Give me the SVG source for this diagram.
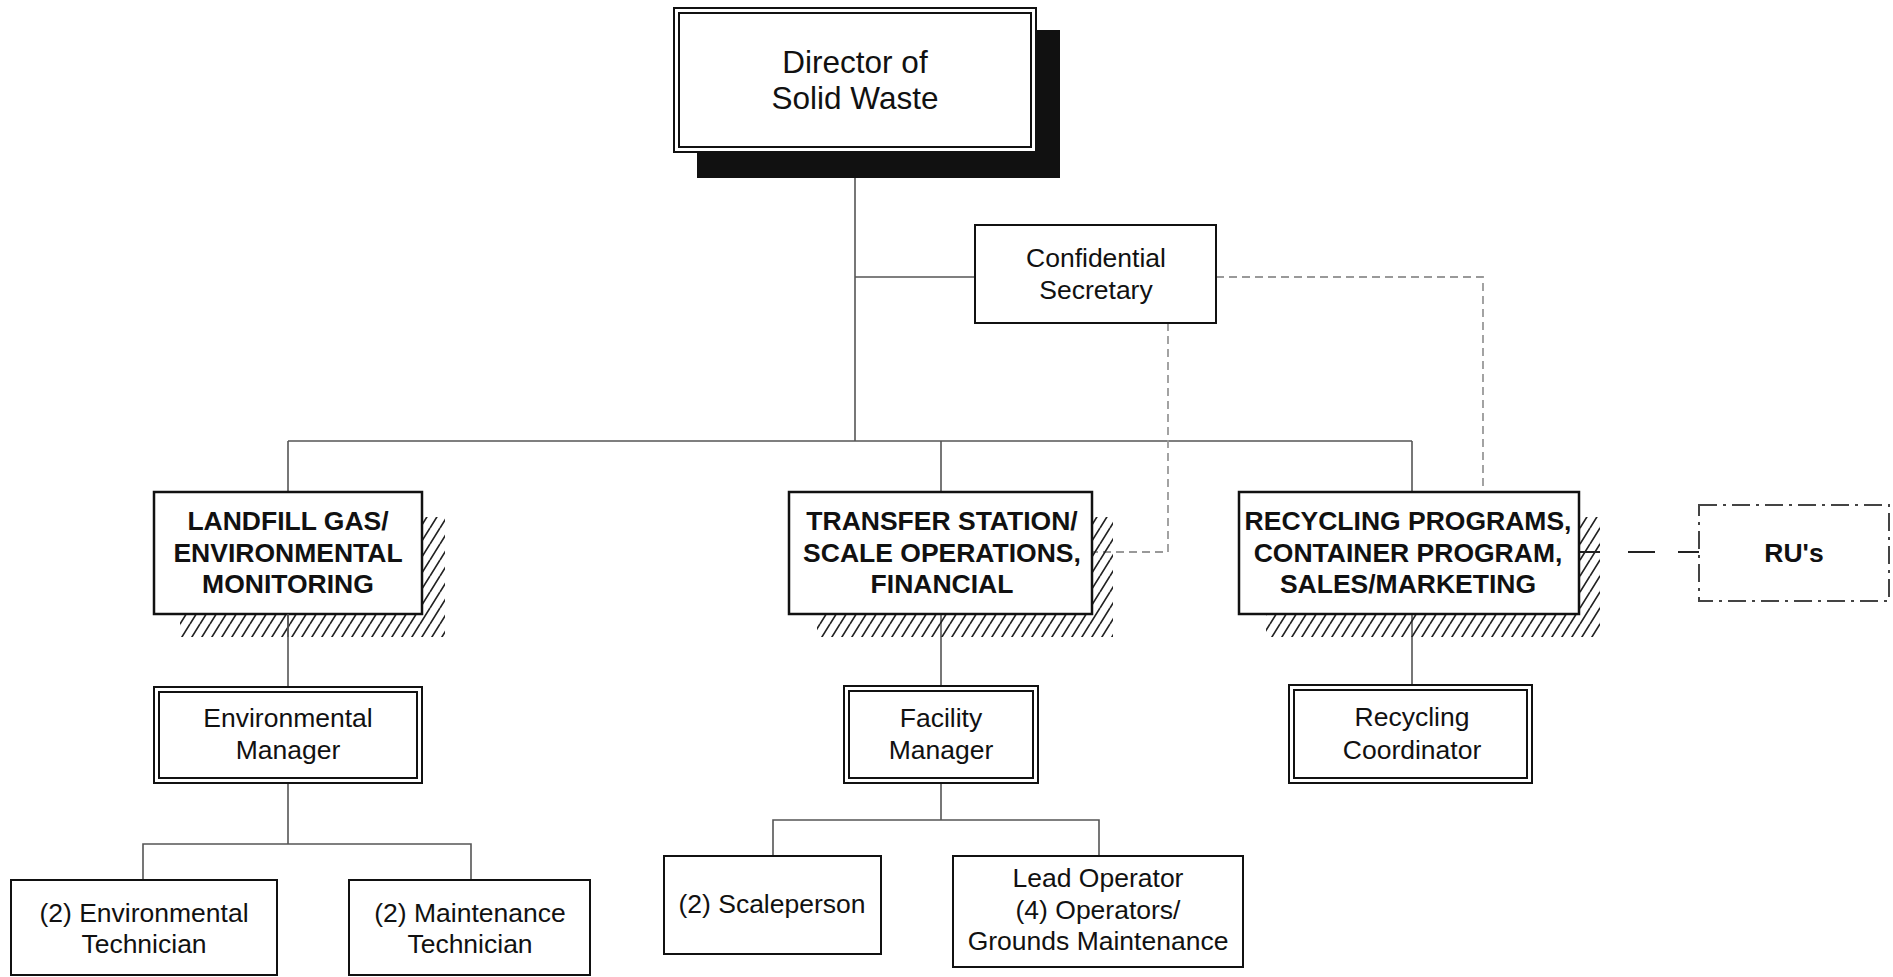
<svg xmlns="http://www.w3.org/2000/svg" width="1893" height="977" viewBox="0 0 1893 977">
<defs>
<pattern id="hatch" patternUnits="userSpaceOnUse" width="10" height="16">
<path d="M-10,16 L0,0 M0,16 L10,0 M10,16 L20,0" stroke="#222" stroke-width="1.7" fill="none"/>
</pattern>
<style>
.box{fill:#fff;stroke:#111;stroke-width:2.5}
.thin{fill:#fff;stroke:#111;stroke-width:2}
.dbl{fill:none;stroke:#111;stroke-width:2}
.ln{fill:none;stroke:#555;stroke-width:1.6}
.dash{fill:none;stroke:#999;stroke-width:1.8;stroke-dasharray:8 5}
.t{font-family:"Liberation Sans",Arial,sans-serif;font-size:26.5px;fill:#111;text-anchor:middle}
.b{font-family:"Liberation Sans",Arial,sans-serif;font-size:26.5px;font-weight:bold;fill:#111;text-anchor:middle}
.big{font-family:"Liberation Sans",Arial,sans-serif;font-size:31.5px;fill:#111;text-anchor:middle}
</style>
</defs>
<rect width="1893" height="977" fill="#fff"/>

<g id="connectors">
<line class="ln" x1="855" y1="170" x2="855" y2="441"/>
<line class="ln" x1="855" y1="277" x2="975" y2="277"/>
<line class="ln" x1="288" y1="441" x2="1412" y2="441"/>
<line class="ln" x1="288" y1="441" x2="288" y2="492"/>
<line class="ln" x1="941" y1="441" x2="941" y2="492"/>
<line class="ln" x1="1412" y1="441" x2="1412" y2="492"/>
<polyline class="dash" points="1216,277 1483,277 1483,492"/>
<polyline class="dash" points="1168,323 1168,552 1092,552"/>
<line class="ln" x1="288" y1="614" x2="288" y2="687"/>
<line class="ln" x1="941" y1="614" x2="941" y2="686"/>
<line class="ln" x1="1412" y1="614" x2="1412" y2="685"/>
<line class="ln" x1="288" y1="783" x2="288" y2="844"/>
<polyline class="ln" points="143,880 143,844 471,844 471,880"/>
<line class="ln" x1="941" y1="783" x2="941" y2="820"/>
<polyline class="ln" points="773,856 773,820 1099,820 1099,856"/>
<line x1="1579" y1="552" x2="1699" y2="552" stroke="#222" stroke-width="2" stroke-dasharray="21 28 27 23 21"/>
</g>

<g id="director">
<rect x="697" y="30" width="363" height="148" fill="#111"/>
<rect x="674" y="8" width="362" height="144" class="thin"/>
<rect x="679" y="13" width="352" height="134" class="dbl"/>
<text class="big" x="855" y="73">Director of</text>
<text class="big" x="855" y="109">Solid Waste</text>
</g>

<g id="secretary">
<rect x="975" y="225" width="241" height="98" class="thin"/>
<text class="t" x="1096" y="267">Confidential</text>
<text class="t" x="1096" y="299">Secretary</text>
</g>

<g id="landfill">
<rect x="180" y="517" width="265" height="120" fill="url(#hatch)"/>
<rect x="154" y="492" width="268" height="122" class="box"/>
<line class="ln" x1="288" y1="614" x2="288" y2="637"/>
<text class="b" x="288" y="530">LANDFILL GAS/</text>
<text class="b" x="288" y="562">ENVIRONMENTAL</text>
<text class="b" x="288" y="593">MONITORING</text>
</g>

<g id="transfer">
<rect x="817" y="517" width="296" height="120" fill="url(#hatch)"/>
<rect x="789" y="492" width="303" height="122" class="box"/>
<text class="b" x="942" y="530">TRANSFER STATION/</text>
<text class="b" x="942" y="562">SCALE OPERATIONS,</text>
<text class="b" x="942" y="593">FINANCIAL</text>
</g>

<g id="recycling">
<rect x="1266" y="517" width="334" height="120" fill="url(#hatch)"/>
<rect x="1239" y="492" width="340" height="122" class="box"/>
<text class="b" x="1408" y="530">RECYCLING PROGRAMS,</text>
<text class="b" x="1408" y="562">CONTAINER PROGRAM,</text>
<text class="b" x="1408" y="593">SALES/MARKETING</text>
</g>

<g id="rus">
<rect x="1699" y="505" width="190" height="96" fill="#fff" stroke="#444" stroke-width="2" stroke-dasharray="18 6 3 6"/>
<text class="b" x="1794" y="562">RU's</text>
</g>

<g id="env-manager">
<rect x="154" y="687" width="268" height="96" class="thin"/>
<rect x="159" y="692" width="258" height="86" class="dbl"/>
<text class="t" x="288" y="727">Environmental</text>
<text class="t" x="288" y="759">Manager</text>
</g>

<g id="facility-manager">
<rect x="844" y="686" width="194" height="97" class="thin"/>
<rect x="849" y="691" width="184" height="87" class="dbl"/>
<text class="t" x="941" y="727">Facility</text>
<text class="t" x="941" y="759">Manager</text>
</g>

<g id="recycling-coordinator">
<rect x="1289" y="685" width="243" height="98" class="thin"/>
<rect x="1294" y="690" width="233" height="88" class="dbl"/>
<text class="t" x="1412" y="726">Recycling</text>
<text class="t" x="1412" y="759">Coordinator</text>
</g>

<g id="env-tech">
<rect x="11" y="880" width="266" height="95" class="thin"/>
<text class="t" x="144" y="922">(2) Environmental</text>
<text class="t" x="144" y="953">Technician</text>
</g>

<g id="maint-tech">
<rect x="349" y="880" width="241" height="95" class="thin"/>
<text class="t" x="470" y="922">(2) Maintenance</text>
<text class="t" x="470" y="953">Technician</text>
</g>

<g id="scaleperson">
<rect x="664" y="856" width="217" height="98" class="thin"/>
<text class="t" x="772" y="913">(2) Scaleperson</text>
</g>

<g id="lead-operator">
<rect x="953" y="856" width="290" height="111" class="thin"/>
<text class="t" x="1098" y="887">Lead Operator</text>
<text class="t" x="1098" y="919">(4) Operators/</text>
<text class="t" x="1098" y="950">Grounds Maintenance</text>
</g>
</svg>
